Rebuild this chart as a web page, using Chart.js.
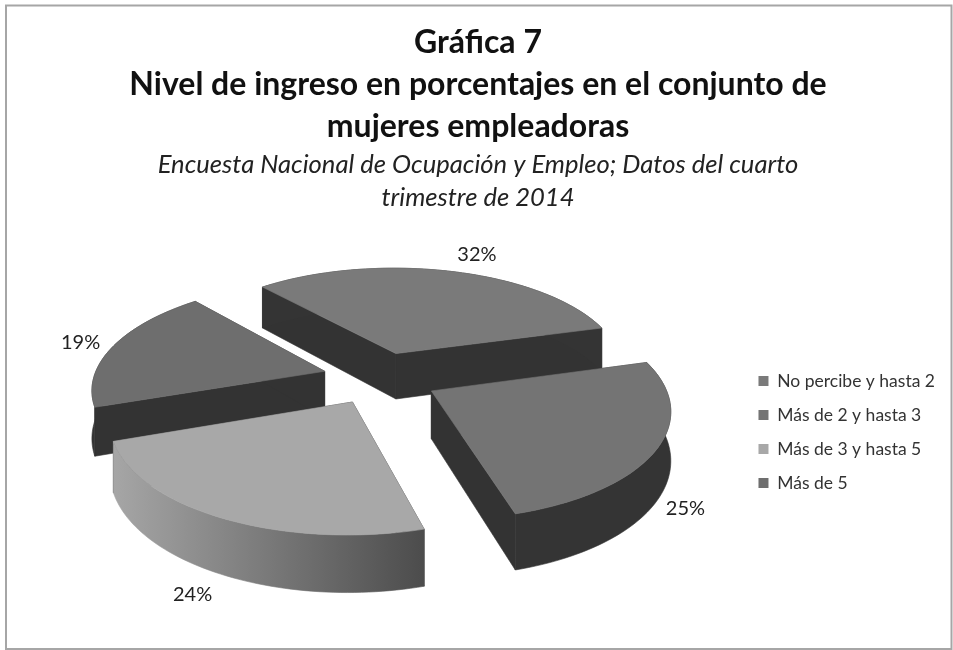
<!DOCTYPE html>
<html>
<head>
<meta charset="utf-8">
<title>Gráfica 7</title>
<script src="https://cdn.jsdelivr.net/npm/chart.js@4/dist/chart.umd.min.js"></script>
<style>
  html, body { margin: 0; padding: 0; background: #fff; }
  #wrap { position: relative; width: 953px; height: 650px; }
</style>
</head>
<body>
<div id="wrap"><canvas id="chart" width="953" height="650"></canvas></div>
<script>
const categories = ["No percibe y hasta 2", "Más de 2 y hasta 3", "Más de 3 y hasta 5", "Más de 5"];
const percentages = [32, 25, 24, 19];
const titleLines = ["Gráfica 7", "Nivel de ingreso en porcentajes en el conjunto de", "mujeres empleadoras"];
const subtitleLines = ["Encuesta Nacional de Ocupación y Empleo; Datos del cuarto", "trimestre de 2014"];

const topColors = ["#7a7a7a", "#747474", "#a8a8a8", "#6e6e6e"];
const font = "Lato";

// 3D look: the pie's arcs are projected onto a tilted plane with some perspective
const view = { shiftX: 3.5, shiftY: -55, sx: 231, ky: 105, persp: 0.15, depth: 47 };
const labelNudge = [[27, -17], [28, 60], [-28, 77], [-33, -3]];
const legendDrop = 108;

function project(arc, u, v, down) {
  const w = 1 / (1 - view.persp * v);
  return {
    x: arc.x + view.shiftX + view.sx * u * w,
    y: arc.y + view.shiftY + view.ky * v * w + (down ? view.depth * w : 0)
  };
}

// points of the slice outline in unit pie coordinates, offset included
function outline(arc) {
  const mid = (arc.startAngle + arc.endAngle) / 2;
  const e = arc.options.offset / arc.outerRadius;
  const apex = { u: Math.cos(mid) * e, v: Math.sin(mid) * e };
  const rim = [];
  for (let i = 0; i <= 60; i++) {
    const a = arc.startAngle + (arc.endAngle - arc.startAngle) * i / 60;
    rim.push({ u: apex.u + Math.cos(a), v: apex.v + Math.sin(a) });
  }
  return { apex, rim };
}

function fillPoly(ctx, pts, fill) {
  ctx.beginPath();
  pts.forEach((p, i) => (i ? ctx.lineTo(p.x, p.y) : ctx.moveTo(p.x, p.y)));
  ctx.closePath();
  ctx.fillStyle = fill;
  ctx.strokeStyle = fill;
  ctx.lineWidth = 0.6;
  ctx.fill();
  ctx.stroke();
}

function drawSlice(ctx, arc, index) {
  const { apex, rim } = outline(arc);
  const top = p => project(arc, p.u, p.v, false);
  const low = p => project(arc, p.u, p.v, true);
  const first = rim[0], last = rim[rim.length - 1];

  // cut faces
  fillPoly(ctx, [top(apex), top(first), low(first), low(apex)], "#333333");
  fillPoly(ctx, [top(apex), top(last), low(last), low(apex)], "#333333");

  // outer wall
  let wall = "#343434";
  if (index === 2) {
    const xs = rim.map(p => top(p).x);
    wall = ctx.createLinearGradient(Math.min(...xs), 0, Math.max(...xs), 0);
    wall.addColorStop(0, "#a6a6a6");
    wall.addColorStop(1, "#4c4c4c");
  }
  fillPoly(ctx, rim.map(top).concat(rim.slice().reverse().map(low)), wall);

  // top face
  fillPoly(ctx, [top(apex)].concat(rim.map(top)), arc.options.backgroundColor);
}

const pie3d = {
  id: "pie3d",
  afterLayout(chart) {
    chart.legend.top += legendDrop;
    chart.legend.bottom += legendDrop;
  },
  beforeDatasetsDraw(chart) {
    const ctx = chart.ctx;
    const arcs = chart.getDatasetMeta(0).data;
    const order = arcs.map((a, i) => i).sort((i, j) => {
      const mid = a => (a.startAngle + a.endAngle) / 2;
      return Math.sin(mid(arcs[i])) - Math.sin(mid(arcs[j]));
    });
    ctx.save();
    order.forEach(i => drawSlice(ctx, arcs[i], i));

    ctx.fillStyle = "#222";
    ctx.font = "20px " + font;
    ctx.textAlign = "center";
    ctx.textBaseline = "middle";
    arcs.forEach((arc, i) => {
      const mid = (arc.startAngle + arc.endAngle) / 2;
      const r = 1 + arc.options.offset / arc.outerRadius;
      const p = project(arc, Math.cos(mid) * r, Math.sin(mid) * r, false);
      ctx.fillText(percentages[i] + "%", p.x + labelNudge[i][0], p.y + labelNudge[i][1]);
    });
    ctx.restore();
    return false;
  }
};

const frame = {
  id: "frame",
  beforeDraw(chart) {
    const ctx = chart.ctx;
    ctx.save();
    ctx.strokeStyle = "#a6a6a6";
    ctx.lineWidth = 2;
    ctx.strokeRect(6, 5.5, 945.5, 643.5);
    ctx.restore();
  }
};

new Chart(document.getElementById("chart"), {
  type: "pie",
  data: {
    labels: categories,
    datasets: [{
      data: percentages,
      backgroundColor: topColors,
      borderWidth: 0,
      offset: 50,
      radius: 200,
      rotation: -41
    }]
  },
  plugins: [frame, pie3d],
  options: {
    responsive: false,
    animation: false,
    layout: { padding: { left: 11, right: 8, bottom: 2 } },
    plugins: {
      title: {
        display: true,
        text: titleLines,
        color: "#111",
        font: { family: font, size: 32, weight: "bold", lineHeight: 1.31 },
        padding: { top: 22, bottom: 0 }
      },
      subtitle: {
        display: true,
        text: subtitleLines,
        color: "#222",
        font: { family: font, size: 25.6, style: "italic", lineHeight: 1.29 },
        padding: { top: 0, bottom: 4 }
      },
      legend: {
        position: "right",
        labels: {
          color: "#333",
          font: { family: font, size: 17.5 },
          boxWidth: 10,
          boxHeight: 10,
          padding: 16.5
        }
      },
      tooltip: { enabled: false }
    }
  }
});
</script>
</body>
</html>
